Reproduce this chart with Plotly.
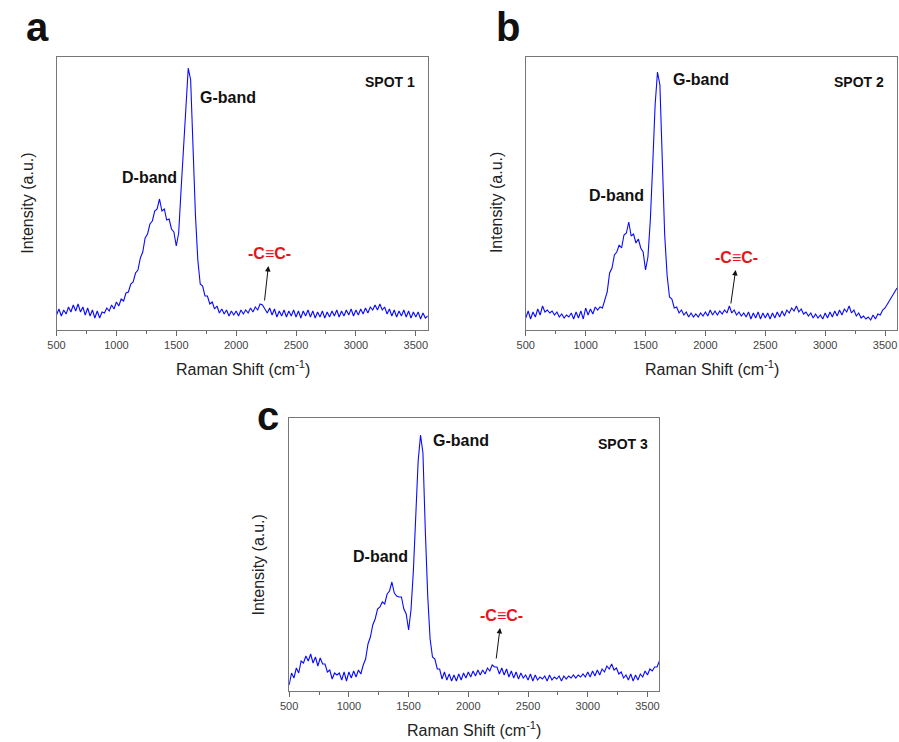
import plotly.graph_objects as go

# Raman shift grid (cm^-1), step 20
RAMAN_SHIFT = list(range(500, 3601, 20))

# Intensities (a.u.)
SPOT1 = [
    15, 21, 14, 20, 16, 23, 18, 25, 19, 26,
    18, 23, 15, 22, 14, 20, 12, 19, 12, 18,
    17, 22, 19, 25, 21, 28, 24, 31, 29, 37,
    38, 46, 48, 57, 60, 72, 78, 92, 96, 106,
    109, 119, 121, 131, 119, 121, 110, 111, 101, 98,
    84, 97, 140, 185, 225, 262, 250, 180, 115, 70,
    46, 44, 34, 34, 26, 28, 21, 24, 17, 21,
    16, 20, 14, 19, 15, 19, 14, 20, 16, 20,
    17, 22, 18, 23, 20, 26, 25, 21, 17, 22,
    15, 21, 13, 19, 14, 20, 13, 19, 14, 20,
    13, 19, 12, 19, 14, 20, 13, 19, 12, 18,
    13, 19, 12, 18, 13, 19, 14, 20, 13, 19,
    14, 20, 15, 21, 14, 20, 15, 21, 16, 22,
    17, 23, 20, 25, 20, 26, 20, 23, 16, 21,
    14, 20, 13, 19, 14, 20, 13, 19, 12, 18,
    13, 18, 11, 17, 12, 14,
]
SPOT2 = [
    12, 19, 11, 18, 13, 21, 15, 24, 18, 20,
    17, 19, 15, 18, 13, 16, 12, 15, 13, 17,
    11, 18, 12, 19, 11, 22, 15, 21, 16, 23,
    20, 23, 22, 30, 38, 57, 62, 75, 78, 85,
    82, 95, 97, 108, 94, 96, 87, 91, 82, 78,
    60, 73, 110, 165, 225, 258, 245, 170, 95, 55,
    33, 31, 22, 23, 17, 20, 15, 18, 13, 17,
    13, 16, 13, 17, 14, 18, 14, 20, 15, 19,
    15, 19, 16, 20, 17, 24, 17, 20, 15, 18,
    14, 17, 13, 18, 11, 17, 12, 18, 11, 17,
    12, 17, 11, 17, 12, 18, 13, 19, 14, 20,
    17, 22, 19, 24, 18, 21, 16, 18, 14, 17,
    12, 16, 12, 15, 11, 17, 12, 18, 13, 19,
    14, 20, 15, 21, 18, 24, 17, 20, 14, 17,
    12, 14, 11, 13, 10, 15, 11, 16, 15, 20,
    22, 26, 30, 33, 37, 42,
]
SPOT3 = [
    6, 18, 13, 23, 18, 30, 28, 35, 30, 37,
    28, 34, 25, 33, 27, 27, 19, 21, 12, 18,
    16, 18, 11, 19, 10, 19, 13, 20, 14, 21,
    17, 26, 32, 47, 54, 66, 72, 82, 84, 89,
    87, 97, 100, 109, 98, 95, 94, 94, 82, 77,
    61, 81, 120, 180, 230, 256, 238, 160, 95, 52,
    34, 32, 22, 22, 12, 19, 11, 17, 10, 16,
    10, 17, 11, 18, 13, 19, 14, 20, 15, 21,
    16, 21, 17, 23, 20, 26, 24, 24, 17, 23,
    16, 22, 14, 20, 13, 19, 12, 18, 13, 16,
    11, 17, 10, 16, 11, 14, 12, 15, 10, 16,
    11, 14, 12, 15, 10, 15, 12, 15, 13, 16,
    13, 16, 14, 17, 14, 19, 14, 20, 15, 21,
    16, 22, 19, 25, 22, 27, 21, 23, 17, 19,
    13, 16, 11, 17, 10, 16, 11, 17, 14, 20,
    16, 22, 20, 24, 24, 30,
]
SPOT_LABELS = ["SPOT 1", "SPOT 2", "SPOT 3"]
PANEL_LETTERS = ["a", "b", "c"]
X_TICKS = [500, 1000, 1500, 2000, 2500, 3000, 3500]

W, H = 899, 742
def px(x):
    return x / W
def py(y):
    return 1 - y / H

FONT = "Liberation Sans, Arial, sans-serif"
LINE_BLUE = "#0a0aff"

fig = go.Figure()

# panel boxes in pixels: (left, right, top, bottom)
boxes = [(48, 423, 57, 330), (522, 897, 57, 330), (283, 657, 418, 691)]
series = [SPOT1, SPOT2, SPOT3]

for i, ((l, r, t, b), ys) in enumerate(zip(boxes, series)):
    xa = "x" if i == 0 else f"x{i+1}"
    ya = "y" if i == 0 else f"y{i+1}"
    fig.add_trace(go.Scatter(x=RAMAN_SHIFT, y=ys, mode="lines",
                             line=dict(color=LINE_BLUE, width=1.1),
                             xaxis=xa, yaxis=ya, showlegend=False))
    xkey = "xaxis" if i == 0 else f"xaxis{i+1}"
    ykey = "yaxis" if i == 0 else f"yaxis{i+1}"
    fig.update_layout(**{
        xkey: dict(domain=[px(l), px(r)], anchor=ya, range=[500, 3600],
                   tickvals=X_TICKS, ticks="outside", ticklen=5, tickwidth=1,
                   tickcolor="#666", showline=True, linecolor="#777",
                   linewidth=1, mirror=True, showgrid=False, zeroline=False,
                   tickfont=dict(family=FONT, size=11, color="#444"),
                   minor=dict(dtick=250, ticks="outside", ticklen=3,
                              tickcolor="#666", showgrid=False)),
        ykey: dict(domain=[py(b), py(t)], anchor=xa, range=[0, 273],
                   showticklabels=False, ticks="", showline=True,
                   linecolor="#777", linewidth=1, mirror=True,
                   showgrid=False, zeroline=False),
    })

ann = []
def text(x, y, s, size, color="#111", bold=True, angle=0):
    ann.append(dict(x=px(x), y=py(y), xref="paper", yref="paper",
                    text=f"<b>{s}</b>" if bold else s, showarrow=False,
                    textangle=angle, xanchor="center", yanchor="middle",
                    font=dict(family=FONT, size=size, color=color)))

def arrow(x0, y0, x1, y1):
    ann.append(dict(x=px(x1), y=py(y1), ax=x0 - x1, ay=y0 - y1,
                    xref="paper", yref="paper", axref="pixel", ayref="pixel",
                    showarrow=True, arrowhead=2, arrowsize=1.1, arrowwidth=1,
                    arrowcolor="#111", text=""))

# panel letters
text(29, 27, PANEL_LETTERS[0], 40)
text(504, 27, PANEL_LETTERS[1], 40)
text(262, 416, PANEL_LETTERS[2], 40)

# panel a
text(221, 97, "G-band", 16)
text(142, 178, "D-band", 16)
text(385, 82, SPOT_LABELS[0], 14)
text(263, 253, "-C≡C-", 16, color="#e8141b")
arrow(258, 302, 262, 266)
# panel b
text(699, 79, "G-band", 16)
text(614, 196, "D-band", 16)
text(859, 82, SPOT_LABELS[1], 14)
text(735, 257, "-C≡C-", 16, color="#e8141b")
arrow(729, 305, 734, 270)
# panel c
text(457, 440, "G-band", 16)
text(375, 556, "D-band", 16)
text(620, 444, SPOT_LABELS[2], 14)
text(497, 615, "-C≡C-", 16, color="#e8141b")
arrow(492, 660, 496, 628)

# axis titles
xt = "Raman Shift (cm<sup>-1</sup>)"
text(236, 368, xt, 16, color="#222", bold=False)
text(710, 368, xt, 16, color="#222", bold=False)
text(470, 729, xt, 16, color="#222", bold=False)
yt = "Intensity (a.u.)"
text(18, 203, yt, 16, color="#222", bold=False, angle=-90)
text(492, 203, yt, 16, color="#222", bold=False, angle=-90)
text(252, 565, yt, 16, color="#222", bold=False, angle=-90)

fig.update_layout(width=W, height=H, margin=dict(l=0, r=0, t=0, b=0),
                  paper_bgcolor="white", plot_bgcolor="white",
                  annotations=ann, showlegend=False)

fig.write_html("out.html", config={"displayModeBar": False},
               post_script="document.body.style.margin='0';"
                           "document.body.style.overflow='hidden';")
